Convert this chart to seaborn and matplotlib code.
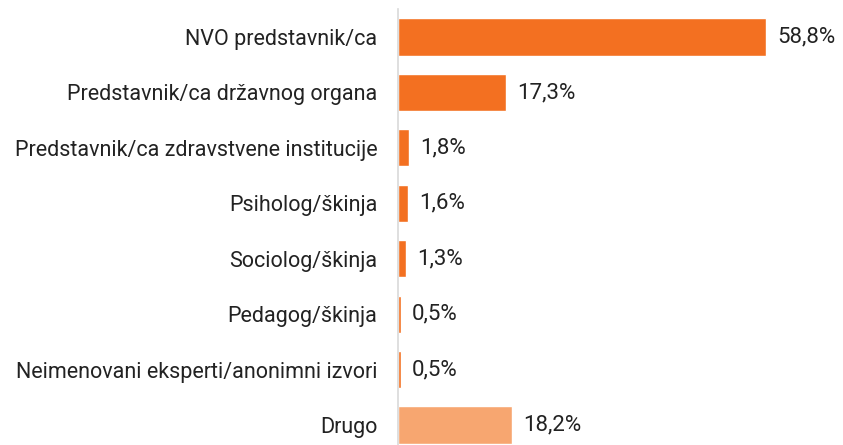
import matplotlib
matplotlib.use("Agg")
import matplotlib.pyplot as plt
import seaborn as sns
import pandas as pd

# data
categories = [
    "NVO predstavnik/ca",
    "Predstavnik/ca državnog organa",
    "Predstavnik/ca zdravstvene institucije",
    "Psiholog/škinja",
    "Sociolog/škinja",
    "Pedagog/škinja",
    "Neimenovani eksperti/anonimni izvori",
    "Drugo",
]
values = [58.8, 17.3, 1.8, 1.6, 1.3, 0.5, 0.5, 18.2]
labels = ["58,8%", "17,3%", "1,8%", "1,6%", "1,3%", "0,5%", "0,5%", "18,2%"]

df = pd.DataFrame({"kategorija": categories, "udio": values})

sns.set_style("white")
plt.rcParams["font.family"] = ["Roboto", "DejaVu Sans"]

fig = plt.figure(figsize=(8.43, 4.45), dpi=100)
ax = fig.add_axes([398 / 843, -7.7 / 445, 445 / 843, 443.4 / 445])

colors = ["#F37021"] * 7 + ["#F7A670"]
sns.barplot(data=df, x="udio", y="kategorija", hue="kategorija", palette=colors,
            legend=False, width=0.67, ax=ax, saturation=1)

# value labels next to the bars
for i, (v, lab) in enumerate(zip(values, labels)):
    ax.text(v + 1.75, i, lab, va="center", ha="left", fontsize=16, color="#222222")

ax.set_xlim(0, 71.1)
ax.set_ylim(7.5, -0.5)
ax.set_xlabel("")
ax.set_ylabel("")
ax.set_xticks([])
ax.tick_params(axis="y", length=0, pad=15, labelsize=15.5, labelcolor="#222222")
for s in ["top", "right", "bottom"]:
    ax.spines[s].set_visible(False)
ax.spines["left"].set_color("#D9D9D9")
ax.spines["left"].set_linewidth(1.2)

fig.savefig("out.png", dpi=100)
